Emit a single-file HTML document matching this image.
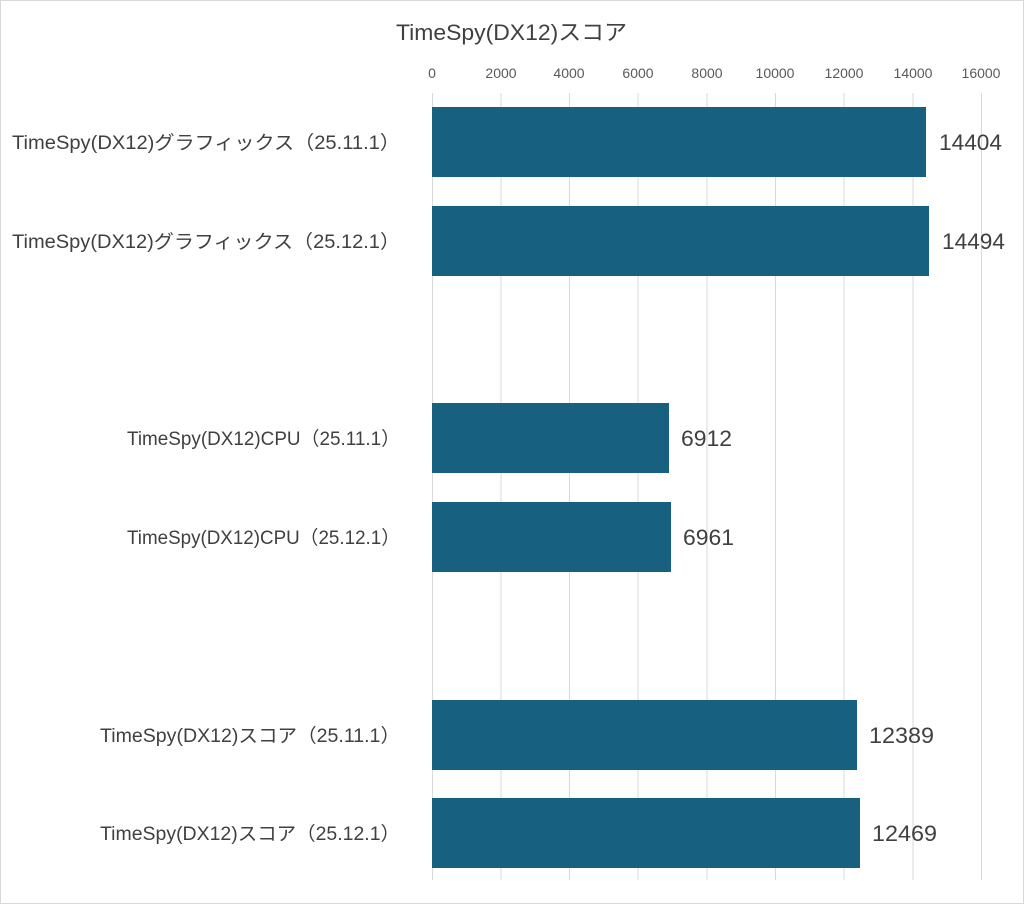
<!DOCTYPE html>
<html><head><meta charset="utf-8"><style>
body{margin:0;background:#fff}
svg text{font-family:"Liberation Sans","Noto Sans CJK JP",sans-serif}
</style></head><body>
<svg width="1024" height="904" xmlns="http://www.w3.org/2000/svg">
<rect x="0.5" y="0.5" width="1023" height="903" fill="#fff" stroke="#d9d9d9"/>
<text x="396" y="40" font-size="22" fill="#404040" textLength="231" lengthAdjust="spacingAndGlyphs">TimeSpy(DX12)スコア</text>
<g stroke="#d9d9d9" stroke-width="1">
<line x1="432.5" y1="93" x2="432.5" y2="880"/>
<line x1="501" y1="93" x2="501" y2="880"/>
<line x1="569.5" y1="93" x2="569.5" y2="880"/>
<line x1="638" y1="93" x2="638" y2="880"/>
<line x1="707" y1="93" x2="707" y2="880"/>
<line x1="775.5" y1="93" x2="775.5" y2="880"/>
<line x1="844" y1="93" x2="844" y2="880"/>
<line x1="913" y1="93" x2="913" y2="880"/>
<line x1="981.5" y1="93" x2="981.5" y2="880"/>
</g>
<g font-size="14" fill="#595959" text-anchor="middle">
<text x="432" y="78">0</text><text x="501" y="78">2000</text><text x="569" y="78">4000</text><text x="638" y="78">6000</text><text x="707" y="78">8000</text><text x="775" y="78">10000</text><text x="844" y="78">12000</text><text x="913" y="78">14000</text><text x="981" y="78">16000</text>
</g>
<g fill="#17607f">
<rect x="432" y="107" width="494" height="70"/>
<rect x="432" y="206" width="497" height="70"/>
<rect x="432" y="403" width="237" height="70"/>
<rect x="432" y="502" width="239" height="70"/>
<rect x="432" y="700" width="425" height="70"/>
<rect x="432" y="798" width="428" height="70"/>
</g>
<g font-size="22" fill="#404040">
<text x="939" y="150" textLength="63" lengthAdjust="spacingAndGlyphs">14404</text>
<text x="942" y="249" textLength="63" lengthAdjust="spacingAndGlyphs">14494</text>
<text x="681" y="446" textLength="51" lengthAdjust="spacingAndGlyphs">6912</text>
<text x="683" y="545" textLength="51" lengthAdjust="spacingAndGlyphs">6961</text>
<text x="869" y="743" textLength="65" lengthAdjust="spacingAndGlyphs">12389</text>
<text x="872" y="841" textLength="65" lengthAdjust="spacingAndGlyphs">12469</text>
</g>
<g font-size="19" fill="#404040">
<text x="12" y="149" textLength="388" lengthAdjust="spacingAndGlyphs">TimeSpy(DX12)グラフィックス（25.11.1）</text>
<text x="12" y="248" textLength="388" lengthAdjust="spacingAndGlyphs">TimeSpy(DX12)グラフィックス（25.12.1）</text>
<text x="127" y="445" textLength="273" lengthAdjust="spacingAndGlyphs">TimeSpy(DX12)CPU（25.11.1）</text>
<text x="127" y="544" textLength="273" lengthAdjust="spacingAndGlyphs">TimeSpy(DX12)CPU（25.12.1）</text>
<text x="100" y="742" textLength="300" lengthAdjust="spacingAndGlyphs">TimeSpy(DX12)スコア（25.11.1）</text>
<text x="100" y="840" textLength="300" lengthAdjust="spacingAndGlyphs">TimeSpy(DX12)スコア（25.12.1）</text>
</g>
</svg>
</body></html>
